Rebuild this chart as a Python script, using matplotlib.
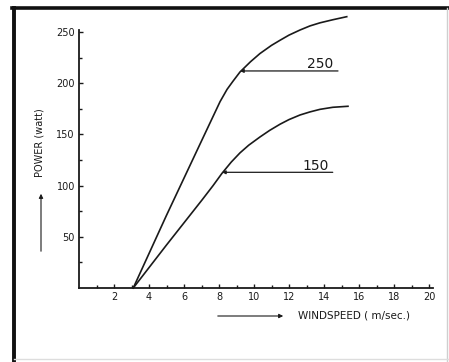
import matplotlib
matplotlib.use("Agg")
import matplotlib.pyplot as plt
from matplotlib.lines import Line2D

# ---- data ----
wind_250 = [3.1, 5.0, 6.9, 8.06, 8.46, 8.8, 9.2, 9.8, 10.34, 11.0, 11.49, 12.0,
            12.63, 13.2, 13.77, 14.5, 15.3]
power_250 = [0, 71, 140, 182, 194, 202, 211, 221, 229, 237, 242, 247,
             252, 256, 259, 262, 265]

wind_150 = [3.1, 5.0, 7.03, 7.66, 8.17, 8.7, 9.2, 9.7, 10.34, 10.9, 11.49, 12.0,
            12.63, 13.2, 13.77, 14.5, 15.37]
power_150 = [0, 42, 86, 100, 112, 123, 132, 139.5, 147.5, 154, 160, 164.5,
             169, 172, 174.5, 176.5, 177.5]

curve_labels = ["250", "150"]
label_points = [(9.2, 212), (8.17, 113)]   # where the leader arrows touch the curves
leader_end_x = [14.8, 14.5]
label_text_pos = [(13.8, 214.5), (13.5, 115)]

x_major = [2, 4, 6, 8, 10, 12, 14, 16, 18, 20]
x_minor = [1, 3, 5, 7, 9, 11, 13, 15, 17, 19]
y_major = [50, 100, 150, 200, 250]
y_minor = [25, 75, 125, 175, 225]

W, H = 449, 362
fig = plt.figure(figsize=(W / 100, H / 100), dpi=100)
fig.patch.set_facecolor("white")

ax = fig.add_axes([79 / W, 1 - 288 / H, (432.5 - 79) / W, (288 - 30) / H])
ax.set_xlim(0, 20.2)
ax.set_ylim(0, 252)

ink = "#1a1a1a"
ax.plot(wind_250, power_250, color=ink, lw=1.2, clip_on=False, solid_joinstyle="round")
ax.plot(wind_150, power_150, color=ink, lw=1.2, clip_on=False, solid_joinstyle="round")

for lab, (px, py), ex, (tx, ty) in zip(curve_labels, label_points, leader_end_x, label_text_pos):
    ax.annotate("", xy=(px, py), xytext=(ex, py),
                arrowprops=dict(arrowstyle="-|>", color=ink, lw=0.9,
                                mutation_scale=5, shrinkA=0, shrinkB=0))
    ax.text(tx, ty, lab, fontsize=10, color=ink, ha="center", va="baseline",
            family="DejaVu Sans")

for s in ["top", "right"]:
    ax.spines[s].set_visible(False)
for s in ["left", "bottom"]:
    ax.spines[s].set_color(ink)
    ax.spines[s].set_linewidth(1.3)

ax.set_xticks(x_major)
ax.set_xticks(x_minor, minor=True)
ax.set_yticks(y_major)
ax.set_yticks(y_minor, minor=True)
ax.set_xticklabels([str(v) for v in x_major])
ax.set_yticklabels([str(v) for v in y_major])
ax.tick_params(which="both", direction="in", color=ink, width=1.0,
               labelsize=7, labelcolor=ink, pad=3)
ax.tick_params(which="major", length=3)
ax.tick_params(which="minor", length=2.5)

# axis titles with arrows
fig.text(298 / W, 1 - 316 / H, "WINDSPEED ( m/sec.)", fontsize=7.5, color=ink,
         ha="left", va="center")
fig.add_artist(matplotlib.patches.FancyArrowPatch(
    (215 / W, 1 - 316 / H), (286 / W, 1 - 316 / H), transform=fig.transFigure,
    arrowstyle="-|>", mutation_scale=6, color=ink, lw=0.8))

fig.text(40 / W, 1 - 143 / H, "POWER (watt)", fontsize=7, color=ink,
         ha="center", va="center", rotation=90)
fig.add_artist(matplotlib.patches.FancyArrowPatch(
    (41 / W, 1 - 254 / H), (41 / W, 1 - 191 / H), transform=fig.transFigure,
    arrowstyle="-|>", mutation_scale=6, color=ink, lw=0.8))

# frame of the scanned figure
fig.add_artist(Line2D([13.5 / W, 13.5 / W], [0, 1 - 8 / H], transform=fig.transFigure,
                      color="#111111", lw=2.8))
fig.add_artist(Line2D([12 / W, 1], [1 - 8 / H, 1 - 8 / H], transform=fig.transFigure,
                      color="#111111", lw=2.6))
fig.add_artist(Line2D([447 / W, 447 / W], [0, 1 - 8 / H], transform=fig.transFigure,
                      color="#cfcfcf", lw=1.0))
fig.add_artist(Line2D([14 / W, 1], [1 - 359 / H, 1 - 359 / H], transform=fig.transFigure,
                      color="#dddddd", lw=1.0))

fig.savefig("out.png", dpi=100, facecolor="white")
